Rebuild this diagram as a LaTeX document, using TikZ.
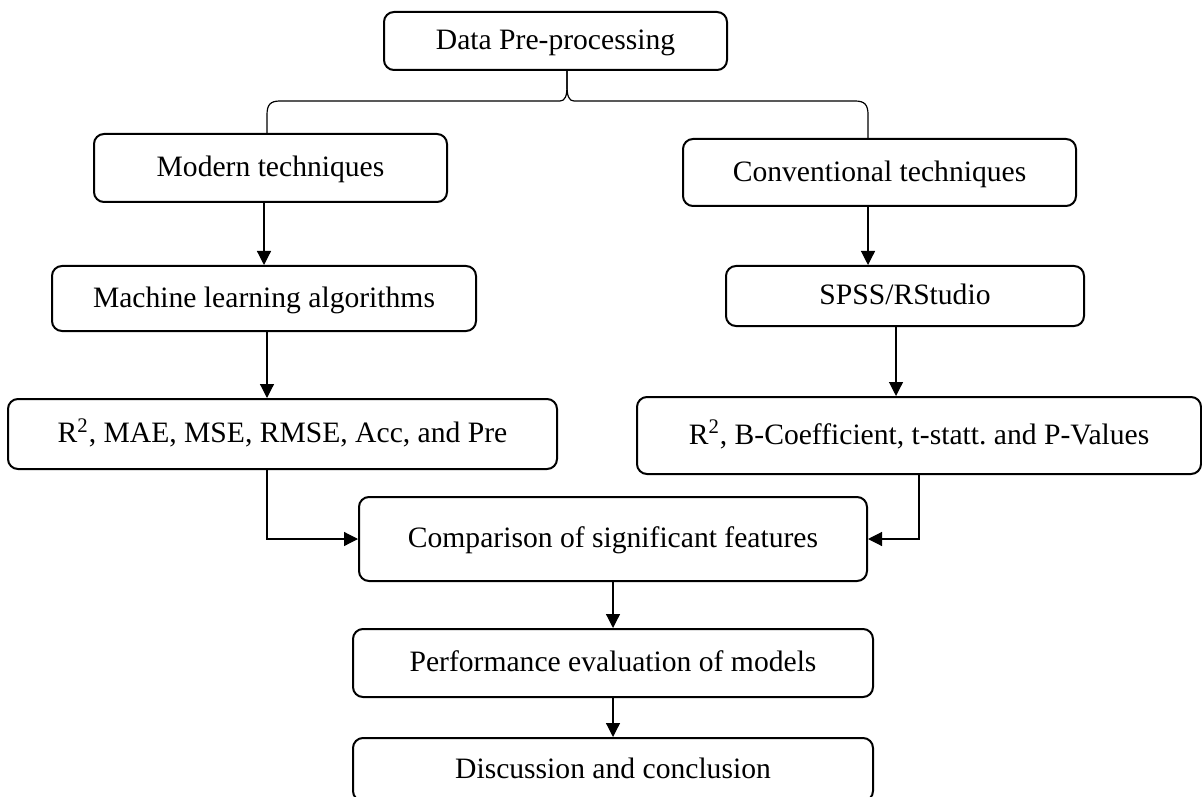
\documentclass[tikz,border=0pt]{standalone}
\usepackage{fontspec}
\setmainfont{Liberation Serif}
\usetikzlibrary{arrows.meta,calc}

\tikzset{
  flowbox/.style={draw, line width=1pt, rounded corners=5pt, inner sep=0pt,
    align=center, text height=0.86em, text depth=0pt,
    font=\fontsize{14.8}{17}\selectfont\frenchspacing},
  link/.style={line width=0.6pt},
  arr/.style={link, -{Triangle[length=7pt,width=7pt]}}
}

\begin{document}
\begin{tikzpicture}[x=0.5pt, y=-0.5pt]
  \useasboundingbox (0,0) rectangle (1202,796);

  % boxes (centre in px, size in pt)
  \node[flowbox, minimum width=171.5pt, minimum height=29pt]   (data)   at (555.5,41)   {Data Pre-processing};
  \node[flowbox, minimum width=176.5pt, minimum height=34pt]   (modern) at (270.5,168)  {Modern techniques};
  \node[flowbox, minimum width=196.5pt, minimum height=33.5pt] (conv)   at (879.5,172.5){Conventional techniques};
  \node[flowbox, minimum width=212pt,   minimum height=32.5pt] (mlalg)  at (264,298.5)  {Machine learning algorithms};
  \node[flowbox, minimum width=179pt,   minimum height=30pt]   (spss)   at (905,296)    {SPSS/RStudio};
  \node[flowbox, minimum width=274.5pt, minimum height=35pt]   (r2a)    at (282.5,434)  {R\textsuperscript{2}, MAE, MSE, RMSE, Acc, and Pre};
  \node[flowbox, minimum width=282pt,   minimum height=38.5pt] (r2b)    at (919,435.5)  {R\textsuperscript{2}, B-Coefficient, t-statt. and P-Values};
  \node[flowbox, minimum width=254pt,   minimum height=42pt]   (cmp)    at (613,539)    {Comparison of significant features};
  \node[flowbox, minimum width=260pt,   minimum height=34pt]   (perf)   at (613,663)    {Performance evaluation of models};
  \node[flowbox, minimum width=260pt,   minimum height=31.5pt] (disc)   at (613,769.5)  {Discussion and conclusion};

  % curly brace below the first box
  \coordinate (tip) at (567,70);
  \coordinate (bL) at (267,134);
  \coordinate (bR) at (868,139);
  \draw[link] (bL) -- (267,115) .. controls (267,105) and (270,101) .. (280,101)
    -- (560,101) .. controls (565,101) and (567,96) .. (567,86) -- (tip);
  \draw[link] (bR) -- (868,115) .. controls (868,105) and (865,101) .. (855,101)
    -- (574,101) .. controls (569,101) and (567,96) .. (567,86) -- (tip);

  % arrows
  \draw[arr] (mlalg.north |- modern.south) -- (mlalg.north);
  \draw[arr] (bR |- conv.south) -- (bR |- spss.north);
  \draw[arr] (bL |- mlalg.south) -- (bL |- r2a.north);
  \draw[arr] ([xshift=-4.5pt]spss.south) -- ([xshift=-4.5pt]spss.south |- r2b.north);
  \draw[arr] (bL |- r2a.south) |- (cmp.west);
  \draw[arr] (r2b.south) |- (cmp.east);
  \draw[arr] (cmp.south) -- (perf.north);
  \draw[arr] (perf.south) -- (disc.north);
\end{tikzpicture}
\end{document}
